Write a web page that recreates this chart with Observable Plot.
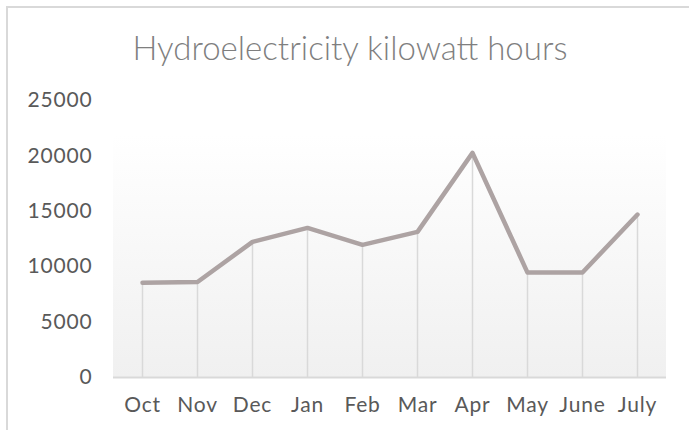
<!DOCTYPE html>
<html>
<head>
<meta charset="utf-8">
<script src="https://cdn.jsdelivr.net/npm/d3@7"></script>
<script src="https://cdn.jsdelivr.net/npm/@observablehq/plot@0.6"></script>
<style>
  html, body { margin: 0; padding: 0; background: #fff; }
  #wrap { position: relative; width: 689px; height: 430px; overflow: hidden; }
  #border { position: absolute; left: 6px; top: 6px; width: 800px; height: 500px;
            border-left: 2px solid #d9d9d9; border-top: 2px solid #d9d9d9; }
  #chart { position: absolute; left: 0; top: 0; }
</style>
</head>
<body>
<div id="wrap">
  <div id="border"></div>
  <div id="chart"></div>
</div>
<script>
const months = ["Oct", "Nov", "Dec", "Jan", "Feb", "Mar", "Apr", "May", "June", "July"];
const kwh = [8550, 8620, 12240, 13500, 11970, 13140, 20270, 9470, 9480, 14710];
const yTicks = [0, 5000, 10000, 15000, 20000, 25000];
const title = "Hydroelectricity kilowatt hours";
const plotAreaTop = 21870;

const data = months.map((m, i) => ({month: m, value: kwh[i]}));

const background = (index, scales, values, dims) => {
  const ns = "http://www.w3.org/2000/svg";
  const g = document.createElementNS(ns, "g");
  const defs = document.createElementNS(ns, "defs");
  defs.innerHTML = '<linearGradient id="pa" x1="0" y1="0" x2="0" y2="1">' +
    '<stop offset="0" stop-color="#ffffff"/><stop offset="1" stop-color="#f0f0f0"/></linearGradient>';
  g.appendChild(defs);
  const r = document.createElementNS(ns, "rect");
  const y1 = scales.y(plotAreaTop), y0 = scales.y(0);
  r.setAttribute("x", dims.marginLeft);
  r.setAttribute("y", y1);
  r.setAttribute("width", dims.width - dims.marginLeft - dims.marginRight);
  r.setAttribute("height", y0 - y1);
  r.setAttribute("fill", "url(#pa)");
  g.appendChild(r);
  return g;
};

const chart = Plot.plot({
  width: 689,
  height: 430,
  marginLeft: 113,
  marginRight: 23,
  marginTop: 100,
  marginBottom: 53,
  style: {fontFamily: "Lato", fontSize: "21px", color: "#595959", background: "transparent"},
  x: {type: "point", domain: months, padding: 0.5, label: null},
  y: {domain: [0, 25000], label: null},
  marks: [
    background,
    Plot.ruleX(data, {x: "month", y1: 0, y2: "value", stroke: "#d9d9d9", strokeWidth: 1.5}),
    Plot.ruleY([0], {stroke: "#d9d9d9", strokeWidth: 2}),
    Plot.axisY({ticks: yTicks, tickSize: 0, tickPadding: 21, tickFormat: d => String(d), fill: "#595959"}),
    Plot.axisX({tickSize: 0, tickPadding: 20, fill: "#595959"}),
    Plot.line(data, {x: "month", y: "value", stroke: "#ada3a3", strokeWidth: 4.5, strokeLinejoin: "round", strokeLinecap: "round"})
  ]
});

d3.select(chart).selectAll("g[aria-label='y-axis tick label'] text, g[aria-label='x-axis tick label'] text")
  .style("letter-spacing", "0.8px");

d3.select(chart).append("text")
  .attr("x", 350).attr("y", 59.5)
  .attr("text-anchor", "middle")
  .attr("font-family", "Lato").attr("font-weight", 300)
  .attr("font-size", 33).attr("fill", "#7f7f7f")
  .text(title);

document.getElementById("chart").appendChild(chart);
</script>
</body>
</html>
